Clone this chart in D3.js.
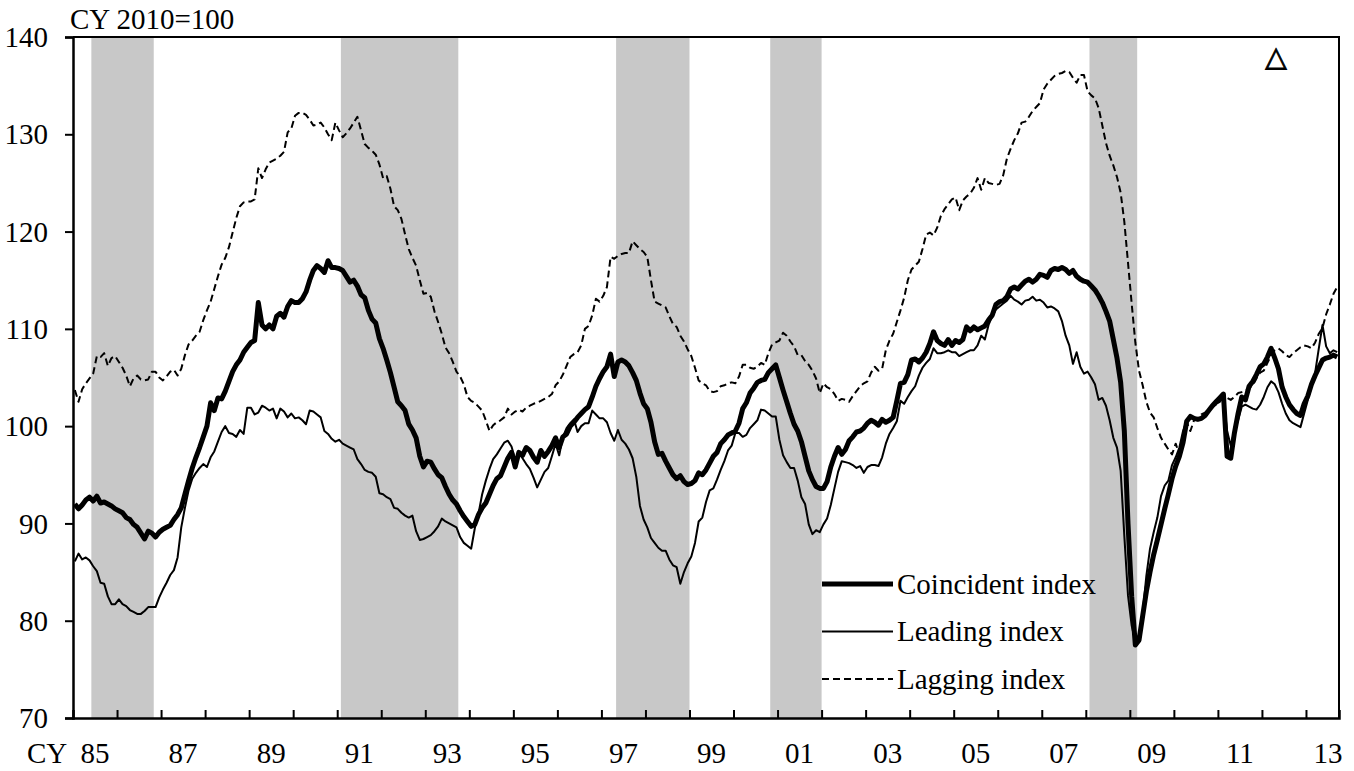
<html>
<head>
<meta charset="utf-8">
<script src="https://d3js.org/d3.v7.min.js"></script>
<style>
  body { margin: 0; background: white; }
  text { font-family: "Liberation Serif", "Times New Roman", serif; fill: black; }
</style>
</head>
<body>
<svg id="chart" width="1354" height="771"></svg>
<script>
// monthly data, Jan 1985 .. Sep 2013 (CY 2010 = 100)
const startYear = 1985;

const coincident = [
  92.0, 91.5, 91.9, 92.4, 92.7, 92.3, 92.8, 92.1, 92.2, 92.0, 91.8, 91.5,
  91.3, 91.1, 90.6, 90.4, 89.9, 89.6, 89.0, 88.4, 89.2, 89.0, 88.6, 89.1,
  89.4, 89.6, 89.8, 90.4, 90.9, 91.6, 93.0, 94.4, 95.7, 96.8, 97.8, 98.9,
  100.0, 102.4, 101.6, 102.9, 102.8, 103.6, 104.6, 105.6, 106.3, 106.8, 107.6, 108.1,
  108.6, 108.8, 112.7, 110.4, 110.0, 110.4, 110.0, 111.3, 111.6, 111.2, 112.3, 112.9,
  112.7, 112.7, 113.1, 113.8, 115.0, 116.0, 116.5, 116.2, 115.8, 117.0, 116.3, 116.3,
  116.2, 116.0, 115.4, 114.8, 115.0, 114.4, 113.5, 113.2, 111.9, 111.0, 110.6, 109.0,
  108.0, 106.8, 105.5, 104.0, 102.5, 102.1, 101.6, 100.2, 99.6, 98.8, 96.9, 95.8,
  96.4, 96.3, 95.6, 95.0, 94.7, 93.8, 93.0, 92.4, 92.0, 91.3, 90.7, 90.2,
  89.7, 89.9, 90.9, 91.6, 92.1, 93.0, 93.9, 94.6, 94.9, 95.8, 96.7, 97.3,
  95.8, 97.3, 97.0, 97.8, 97.5, 96.8, 96.3, 97.5, 96.9, 97.4, 98.0, 98.8,
  97.8, 98.9, 99.2, 100.0, 100.4, 100.9, 101.3, 101.7, 102.0, 103.0, 104.1, 104.9,
  105.6, 106.1, 107.4, 105.1, 106.6, 106.8, 106.6, 106.2, 105.5, 104.7, 103.4, 102.3,
  101.8, 100.4, 98.4, 97.1, 97.2, 96.4, 95.7, 95.0, 94.6, 94.9, 94.3, 94.0,
  94.1, 94.4, 95.2, 95.0, 95.5, 96.2, 96.9, 97.3, 98.2, 98.6, 99.1, 99.3,
  99.5, 100.3, 101.8, 102.4, 103.4, 103.9, 104.5, 104.7, 104.8, 105.5, 105.9, 106.3,
  105.0, 103.7, 102.5, 101.3, 100.2, 99.5, 98.4, 96.9, 95.4, 94.5, 93.8, 93.6,
  93.6, 94.3, 95.8, 96.9, 97.8, 97.1, 97.6, 98.5, 98.9, 99.4, 99.5, 99.8,
  100.3, 100.6, 100.4, 100.1, 100.7, 100.4, 100.6, 100.9, 102.6, 104.4, 104.5, 105.3,
  106.8, 106.9, 106.6, 107.0, 107.6, 108.5, 109.7, 108.8, 108.5, 108.3, 108.9, 108.3,
  108.8, 108.6, 108.9, 110.2, 109.8, 110.2, 109.9, 110.1, 110.3, 110.9, 111.4, 112.5,
  112.8, 112.9, 113.3, 114.1, 114.3, 114.1, 114.5, 114.9, 115.1, 114.8, 115.1, 115.6,
  115.5, 115.3, 116.0, 116.2, 116.1, 116.3, 116.1, 115.7, 116.0, 115.4, 115.1, 114.9,
  114.8, 114.4, 114.0, 113.4, 112.7, 111.8, 110.8, 108.9, 107.0, 104.5, 99.5, 90.0,
  82.5, 77.5, 78.0, 80.5, 83.0, 85.0, 86.8, 88.3, 89.9, 91.5, 93.0, 94.6,
  95.9, 96.9, 98.3, 100.5, 101.0, 100.8, 100.7, 100.8, 101.1, 101.6, 102.1, 102.5,
  102.9, 103.3, 96.9, 96.7, 99.3, 101.3, 103.0, 102.7, 104.1, 104.6, 105.3, 106.1,
  106.4, 107.1, 108.0, 107.0, 105.9, 104.0, 103.0, 102.2, 101.7, 101.3, 101.1, 102.3,
  103.1, 104.3, 105.2, 106.0, 106.8, 107.0, 107.1, 107.3, 107.1
];

const leading = [
  86.1, 86.9, 86.3, 86.5, 86.2, 85.6, 85.1, 83.9, 83.8, 82.5, 81.7, 81.7,
  82.2, 81.7, 81.5, 81.1, 80.9, 80.7, 80.7, 81.0, 81.4, 81.4, 81.4, 82.4,
  83.2, 83.9, 84.7, 85.2, 86.5, 89.6, 91.6, 93.4, 94.6, 95.2, 95.7, 96.1,
  95.8, 96.8, 97.4, 98.4, 99.4, 100.0, 99.3, 99.2, 98.9, 99.6, 99.2, 101.9,
  101.9, 101.2, 101.4, 102.1, 101.9, 101.6, 101.8, 100.8, 101.8, 101.5, 100.9, 101.3,
  100.8, 100.9, 100.6, 100.2, 101.6, 101.5, 101.2, 100.9, 99.5, 99.2, 98.7, 98.4,
  98.6, 98.2, 98.0, 97.8, 97.6, 96.6, 96.1, 95.5, 95.3, 95.2, 94.8, 93.1,
  93.0, 92.7, 92.5, 91.6, 91.5, 91.1, 90.8, 90.6, 90.8, 89.2, 88.3, 88.4,
  88.6, 88.8, 89.2, 89.7, 90.5, 90.2, 90.0, 89.8, 89.6, 88.6, 88.0, 87.7,
  87.4, 89.5, 91.0, 93.0, 94.4, 95.6, 96.6, 97.1, 97.7, 98.3, 98.5, 97.9,
  96.6, 97.3, 96.7, 96.1, 95.6, 94.7, 93.7, 94.5, 95.3, 95.7, 96.9, 98.2,
  97.0, 98.9, 99.8, 100.3, 100.7, 99.4, 100.0, 100.3, 100.3, 101.6, 101.2, 100.8,
  100.8, 100.4, 99.3, 98.5, 99.6, 98.6, 98.2, 97.6, 96.7, 94.8, 91.8, 90.4,
  89.6, 88.5, 88.0, 87.5, 87.2, 87.2, 86.3, 85.7, 85.5, 83.8, 85.0, 85.9,
  86.6, 88.0, 90.2, 90.6, 92.2, 93.4, 93.6, 94.5, 95.5, 96.4, 97.5, 98.0,
  99.3, 99.3, 98.9, 99.1, 99.8, 100.2, 100.6, 101.7, 101.6, 101.3, 101.0, 101.0,
  98.6, 97.0, 96.3, 95.7, 95.7, 94.4, 92.7, 92.0, 89.9, 88.9, 89.3, 89.1,
  89.9, 90.5, 91.9, 93.6, 95.3, 96.4, 96.3, 96.2, 96.0, 95.7, 95.9, 95.2,
  95.8, 96.0, 96.0, 95.9, 96.8, 98.2, 99.2, 99.8, 100.5, 102.6, 102.3, 103.0,
  103.6, 104.1, 105.2, 106.0, 106.5, 106.9, 108.0, 107.5, 107.5, 107.6, 107.8, 107.6,
  107.6, 107.2, 107.4, 107.6, 107.8, 107.8, 108.3, 109.3, 108.9, 110.4, 111.3, 112.0,
  112.3, 112.6, 112.9, 113.4, 113.0, 112.8, 112.5, 112.9, 113.0, 113.3, 112.9, 113.0,
  112.7, 112.2, 112.3, 112.1, 111.8, 110.8, 109.3, 108.3, 106.4, 107.6, 106.1, 105.4,
  105.6, 105.0, 104.3, 102.7, 102.9, 102.1, 100.6, 98.8, 97.8, 95.4, 88.7, 82.6,
  79.5, 77.8, 78.4, 80.8, 84.6, 87.4, 89.1, 90.6, 92.8, 93.9, 94.4, 96.0,
  96.8, 97.8, 99.5, 100.6, 100.9, 100.9, 100.6, 100.9, 101.3, 101.6, 101.9, 102.3,
  102.5, 103.0, 99.5, 98.0, 99.5, 100.6, 102.0, 102.2, 102.0, 101.8, 101.7, 102.2,
  103.0, 104.0, 104.6, 104.3, 103.5, 102.3, 101.3, 100.6, 100.3, 100.1, 99.9, 101.3,
  102.7, 104.1, 105.5, 108.0, 110.4, 108.2, 107.5, 107.8, 107.6
];

const lagging = [
  103.7, 102.5, 103.8, 104.4, 104.9, 105.4, 107.2, 107.1, 107.5, 106.2, 107.0, 107.2,
  106.6, 106.0, 105.2, 104.1, 104.9, 105.2, 104.8, 104.7, 104.8, 105.6, 105.6, 105.0,
  104.7, 105.1, 105.6, 105.8, 105.2, 105.9, 107.3, 108.4, 108.8, 109.3, 109.7, 110.9,
  111.9, 112.8, 114.1, 115.4, 116.6, 117.3, 118.4, 119.9, 121.4, 122.6, 123.0, 123.1,
  123.1, 123.3, 126.5, 125.5, 126.4, 127.1, 127.3, 127.5, 127.8, 128.2, 130.2, 130.6,
  131.9, 132.2, 132.2, 132.0, 131.5, 130.9, 131.0, 131.2, 130.7, 130.0, 129.4, 131.2,
  130.4, 129.7, 130.1, 130.6, 131.2, 131.8, 130.4, 129.0, 128.6, 128.3, 127.9, 126.9,
  125.5, 125.7, 124.4, 122.6, 122.2, 121.3, 119.7, 118.2, 117.3, 116.5, 115.0, 113.6,
  113.7, 113.3, 111.8, 110.7, 109.5, 108.1, 107.5, 106.6, 105.6, 105.1, 104.3, 103.0,
  102.6, 102.4, 102.0, 101.6, 100.6, 99.5, 100.1, 100.4, 100.6, 100.9, 101.8, 101.2,
  101.5, 101.7, 101.5, 101.9, 102.1, 102.3, 102.4, 102.6, 102.8, 103.0, 103.3, 104.2,
  104.6, 105.3, 106.2, 107.1, 107.4, 107.6, 108.3, 110.0, 110.3, 111.4, 113.1, 112.8,
  113.4, 114.3, 117.4, 117.2, 117.5, 117.7, 117.8, 117.8, 119.0, 118.6, 118.2, 117.9,
  117.4, 115.0, 112.8, 112.6, 112.4, 112.2, 111.3, 110.5, 110.2, 109.3, 108.7, 107.9,
  107.2, 106.0, 104.7, 104.4, 104.2, 103.6, 103.5, 103.6, 104.1, 104.2, 104.4, 104.5,
  104.4, 105.1, 106.3, 106.3, 106.0, 105.9, 106.1, 106.5, 106.3, 107.5, 108.4, 108.6,
  108.8, 109.6, 109.3, 108.7, 108.2, 107.3, 107.3, 106.7, 106.3, 105.7, 104.9, 103.4,
  104.4, 104.0, 103.8, 103.3, 102.6, 102.8, 102.7, 102.5, 103.1, 103.6, 104.1, 104.4,
  104.6, 105.5, 106.1, 105.7, 105.9, 107.8, 108.8, 109.5, 110.7, 111.9, 113.2, 115.0,
  116.1, 116.5, 116.9, 118.2, 119.7, 119.9, 119.6, 120.4, 121.6, 122.3, 122.8, 123.3,
  123.5, 122.2, 123.2, 123.6, 123.9, 124.5, 125.5, 124.3, 125.5, 125.0, 124.9, 124.8,
  124.9, 125.8, 127.5, 128.5, 129.4, 130.1, 131.2, 131.3, 131.8, 132.4, 132.8, 133.2,
  134.6, 135.2, 135.6, 136.0, 136.2, 136.3, 136.5, 136.4, 135.8, 135.3, 136.1, 136.1,
  134.4, 134.0, 133.7, 132.7, 130.9, 129.1, 127.8, 126.8, 125.6, 124.0, 121.0, 116.8,
  112.6, 108.6, 105.7, 104.2, 102.5, 101.4, 100.9, 99.8, 98.8, 98.2, 97.6, 97.1,
  98.2, 97.1, 98.5, 100.4, 99.5, 100.6, 100.8, 101.2, 101.4, 101.7, 102.0, 102.2,
  102.6, 103.0, 102.9, 102.7, 103.0, 103.4, 103.5, 103.6, 103.9, 104.2, 104.9, 105.5,
  105.7, 106.5, 107.3, 107.8, 108.0, 107.7, 107.3, 107.1, 107.5, 107.8, 108.1, 108.3,
  108.2, 108.0, 108.6, 109.5, 110.1, 111.5, 112.5, 113.6, 114.3
];

// recession periods (peak month, trough month)
const recessions = [
  ["1985-06", "1986-11"],
  ["1991-02", "1993-10"],
  ["1997-05", "1999-01"],
  ["2000-11", "2002-01"],
  ["2008-02", "2009-03"]
];

const yTicks = [70, 80, 90, 100, 110, 120, 130, 140];
const xLabels = ["85", "87", "89", "91", "93", "95", "97", "99", "01", "03", "05", "07", "09", "11", "13"];
const seriesNames = ["Coincident index", "Leading index", "Lagging index"];

// layout
const svg = d3.select("#chart");
const plotLeft = 73, plotRight = 1339, plotTop = 37, plotBottom = 718;
const nMonths = coincident.length;
const fontSize = 29;

const x = d3.scaleLinear().domain([0, nMonths]).range([plotLeft, plotRight]);
const y = d3.scaleLinear().domain([70, 140]).range([plotBottom, plotTop]);

const monthIndex = function(s) {
  const p = s.split("-");
  return (+p[0] - startYear) * 12 + (+p[1] - 1);
};

// shaded recessions
svg.append("g")
  .selectAll("rect")
  .data(recessions)
  .enter()
  .append("rect")
    .attr("x", d => x(monthIndex(d[0])))
    .attr("width", d => x(monthIndex(d[1])) - x(monthIndex(d[0])))
    .attr("y", plotTop)
    .attr("height", plotBottom - plotTop)
    .attr("fill", "#c8c8c8");

// plot frame (top and right)
svg.append("path")
  .attr("d", `M${plotLeft},${plotTop}H${plotRight}V${plotBottom}`)
  .attr("fill", "none")
  .attr("stroke", "black")
  .attr("stroke-width", 2);

// lines
const line = function(values) {
  return d3.line()
    .x((d, i) => x(i + 0.5))
    .y(d => y(d))(values);
};

const styles = [
  { data: lagging, width: 2, dash: "7,4" },
  { data: leading, width: 2, dash: null },
  { data: coincident, width: 5, dash: null }
];

svg.append("g")
  .selectAll("path")
  .data(styles)
  .enter()
  .append("path")
    .attr("d", d => line(d.data))
    .attr("fill", "none")
    .attr("stroke", "black")
    .attr("stroke-width", d => d.width)
    .attr("stroke-dasharray", d => d.dash)
    .attr("stroke-linejoin", "round");

// y axis
const yAxis = d3.axisLeft(y)
  .tickValues(yTicks)
  .tickSize(8)
  .tickPadding(17)
  .tickFormat(d3.format("d"));

const gy = svg.append("g")
  .attr("transform", `translate(${plotLeft},0)`)
  .call(yAxis);
gy.select(".domain").attr("stroke-width", 2.5);
gy.selectAll(".tick line").attr("stroke-width", 2);
gy.selectAll(".tick text")
  .attr("font-family", "Liberation Serif, Times New Roman, serif")
  .attr("font-size", fontSize)
  .attr("dy", "0.33em");

// x axis: ticks at year boundaries (inside), labels every other year centred in the year
const yearTicks = d3.range(12, nMonths, 12);
const xAxis = d3.axisBottom(x)
  .tickValues(yearTicks)
  .tickSize(-8)
  .tickFormat("");

const gx = svg.append("g")
  .attr("transform", `translate(0,${plotBottom})`)
  .call(xAxis);
gx.select(".domain").attr("stroke-width", 2.5);
gx.selectAll(".tick line").attr("stroke-width", 2);

svg.append("g")
  .selectAll("text")
  .data(xLabels)
  .enter()
  .append("text")
    .attr("x", (d, i) => x(i * 24 + 6))
    .attr("y", 763)
    .attr("text-anchor", "middle")
    .attr("font-size", fontSize)
    .text(d => d);

svg.append("text")
  .attr("x", 27)
  .attr("y", 763)
  .attr("font-size", fontSize)
  .text("CY");

svg.append("text")
  .attr("x", 70)
  .attr("y", 29)
  .attr("font-size", fontSize)
  .text("CY 2010=100");

svg.append("text")
  .attr("x", 1276)
  .attr("y", 66)
  .attr("text-anchor", "middle")
  .style("font-family", "DejaVu Sans, sans-serif")
  .attr("font-size", 28)
  .attr("stroke", "black")
  .attr("stroke-width", 0.8)
  .text("△");

// legend
const legend = svg.append("g")
  .selectAll("g")
  .data(seriesNames)
  .enter()
  .append("g")
    .attr("transform", (d, i) => `translate(822,${584 + i * 47.5})`);

legend.append("line")
  .attr("x1", 0).attr("x2", 71)
  .attr("stroke", "black")
  .attr("stroke-width", (d, i) => i === 0 ? 5 : 2)
  .attr("stroke-dasharray", (d, i) => i === 2 ? "7,4" : null);

legend.append("text")
  .attr("x", 75)
  .attr("dy", "0.33em")
  .attr("font-size", fontSize)
  .text(d => d);
</script>
</body>
</html>
